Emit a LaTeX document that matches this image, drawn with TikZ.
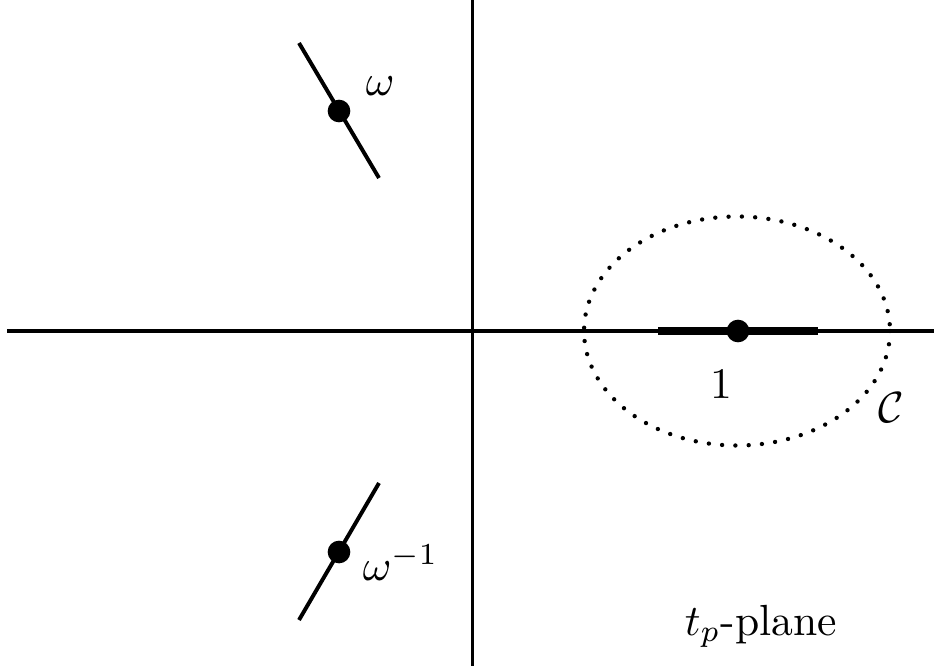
\documentclass[tikz,border=0pt]{standalone}
\begin{document}
\begin{tikzpicture}[x=0.2293pt,y=-0.2293pt,
  axis/.style={line width=0.7pt},
  cut/.style={line width=0.9pt},
  thickcut/.style={line width=2pt},
  pole/.style={circle,fill=black,inner sep=0pt,minimum size=5.2pt},
  lbl/.style={inner sep=0pt},
  contour/.style={line width=1pt,line cap=round,dash pattern=on 0pt off 3.05pt}]
\useasboundingbox (0,0) rectangle (934,666);
% axes
\coordinate (xl) at (7,331);
\coordinate (xr) at (934,331);
\coordinate (yt) at (472.5,0);
\coordinate (yb) at (472.5,666);
\draw[axis] (xl) -- (xr);
\draw[axis] (yt) -- (yb);
% contour C
\draw[contour] (737,331) ellipse [x radius=153, y radius=114.5];
% cut at 1
\coordinate (c1a) at (658,331);
\coordinate (c1b) at (818,331);
\draw[thickcut] (c1a) -- (c1b);
\node[pole] (one) at (738,331) {};
% omega
\coordinate (wa) at (299,43);
\coordinate (wb) at (379,178);
\draw[cut] (wa) -- (wb);
\node[pole] (w) at (339,111) {};
% omega^{-1}
\coordinate (wia) at (299,620);
\coordinate (wib) at (379,483);
\draw[cut] (wia) -- (wib);
\node[pole] (wi) at (339,552) {};
% labels
\node[lbl,anchor=base west] (wl) at (365,95) {$\omega$};
\node[lbl,anchor=base west] (wil) at (362,580) {$\omega^{-1}$};
\node[lbl,anchor=base] (onel) at (721,398) {$1$};
\node[lbl,anchor=base] (cl) at (891,422) {$\mathcal{C}$};
\node[lbl,anchor=base west] (pl) at (684,635) {$t_p$-plane};
\end{tikzpicture}
\end{document}
